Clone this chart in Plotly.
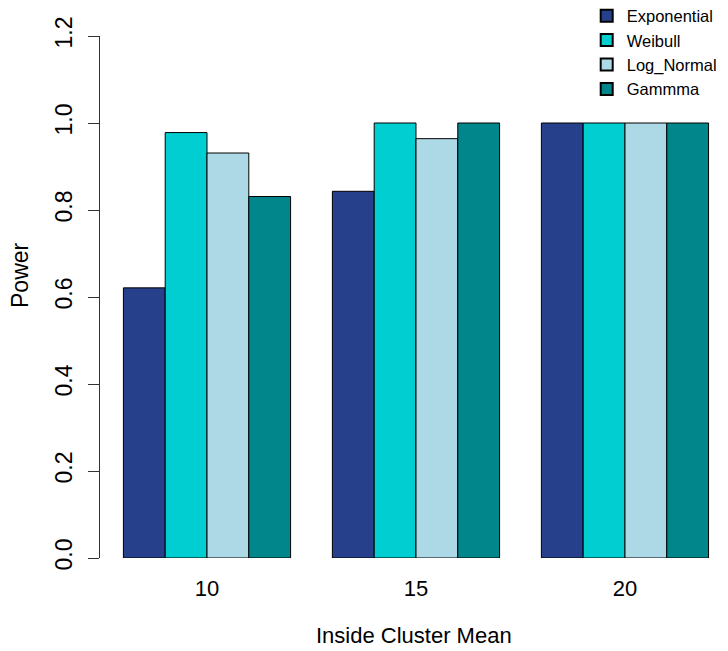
import plotly.graph_objects as go

# Power of the test by inside-cluster mean, one bar per distribution
cluster_means = ["10", "15", "20"]
exponential = [0.621, 0.843, 1.0]
weibull = [0.978, 1.0, 1.0]
log_normal = [0.931, 0.964, 1.0]
gammma = [0.831, 1.0, 1.0]

series_names = ["Exponential", "Weibull", "Log_Normal", "Gammma"]
series_values = [exponential, weibull, log_normal, gammma]
series_colors = ["#27408B", "#00CED1", "#ADD8E6", "#00868B"]

y_ticks = [0.0, 0.2, 0.4, 0.6, 0.8, 1.0, 1.2]

W, H = 728, 651
L, R, T, B = 100, 0, 36, 93

fig = go.Figure()
for name, vals, col in zip(series_names, series_values, series_colors):
    fig.add_trace(go.Bar(
        x=cluster_means, y=vals, name=name,
        marker=dict(color=col, line=dict(color="black", width=1)),
    ))

narrow = "Liberation Sans Narrow, Arial Narrow, Liberation Sans, Arial, sans-serif"
sans = "Liberation Sans, Arial, Helvetica, sans-serif"

fig.update_layout(
    width=W, height=H,
    margin=dict(l=L, r=R, t=T, b=B, pad=0, autoexpand=False),
    paper_bgcolor="white", plot_bgcolor="white",
    barmode="group", bargap=0.2, bargroupgap=0,
    font=dict(family=sans, color="black"),
    showlegend=True,
    legend=dict(
        x=0.775, y=1.072, xanchor="left", yanchor="top",
        font=dict(size=16.5, family=sans, color="black"),
        bgcolor="rgba(0,0,0,0)", tracegroupgap=0,
        itemsizing="constant",
    ),
    xaxis=dict(
        type="category", range=[-0.512, 2.493], automargin=False,
        showline=False, showgrid=False, zeroline=False,
        ticks="", ticklabelstandoff=15,
        tickfont=dict(size=22, family=sans, color="black"),
    ),
    yaxis=dict(
        range=[0, 1.2], tickvals=y_ticks, tickformat=".1f", automargin=False,
        showline=True, linecolor="#333333", linewidth=1,
        showgrid=False, zeroline=False,
        ticks="outside", ticklen=11, tickcolor="#333333", tickwidth=1,
        tickangle=-90, ticklabelstandoff=7,
        tickfont=dict(size=23, family=narrow, color="black"),
    ),
    annotations=[
        dict(text="Power", xref="paper", yref="paper",
             x=(20 - L) / (W - L - R), y=(558 - 275) / (558 - 36),
             xanchor="center", yanchor="middle", textangle=-90,
             showarrow=False, font=dict(size=23, family=narrow, color="black")),
        dict(text="Inside Cluster Mean", xref="paper", yref="paper",
             x=(414 - L) / (W - L - R), y=(558 - 635) / (558 - 36),
             xanchor="center", yanchor="middle",
             showarrow=False, font=dict(size=22, family=sans, color="black")),
    ],
)

fig.write_html("out.html")
